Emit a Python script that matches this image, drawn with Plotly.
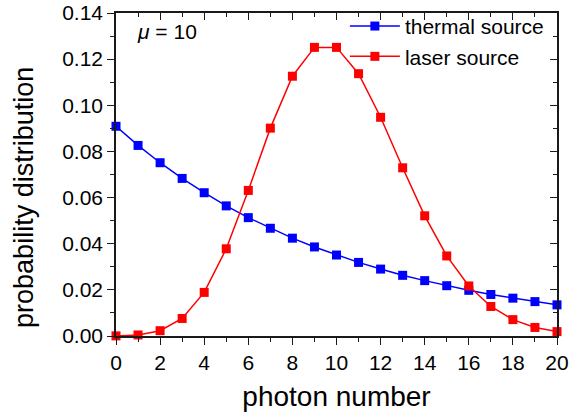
import plotly.graph_objects as go

# Photon-number distributions for mean photon number mu = 10
photon_n = list(range(0, 21))
thermal_p = [0.0909, 0.0826, 0.0751, 0.0683, 0.0621, 0.0564, 0.0513, 0.0467,
             0.0424, 0.0386, 0.0351, 0.0319, 0.0290, 0.0263, 0.0240, 0.0218,
             0.0198, 0.0180, 0.0164, 0.0149, 0.0135]
laser_p = [0.00005, 0.00045, 0.0023, 0.0076, 0.0189, 0.0378, 0.0631, 0.0901,
           0.1126, 0.1251, 0.1251, 0.1137, 0.0948, 0.0729, 0.0521, 0.0347,
           0.0217, 0.0128, 0.0071, 0.0037, 0.0019]

x_ticks = list(range(0, 21, 2))
y_ticks = [0.00, 0.02, 0.04, 0.06, 0.08, 0.10, 0.12, 0.14]
y_tick_text = [f"{v:.2f}" for v in y_ticks]

BLUE = "#0000ff"
RED = "#ff0000"
AXIS = "#1a1a1a"
FONT = "Liberation Sans, Arial, sans-serif"

fig = go.Figure()

fig.add_trace(go.Scatter(x=photon_n, y=thermal_p, mode="lines+markers",
                         name="thermal source",
                         line=dict(color=BLUE, width=1.5),
                         marker=dict(symbol="square", size=9, color=BLUE),
                         cliponaxis=False))
fig.add_trace(go.Scatter(x=photon_n, y=laser_p, mode="lines+markers",
                         name="laser source",
                         line=dict(color=RED, width=1.5),
                         marker=dict(symbol="square", size=9, color=RED),
                         cliponaxis=False))

# invisible trace on the mirror axes so the top/right frame is drawn
fig.add_trace(go.Scatter(x=[0, 20], y=[0, 0.14], xaxis="x2", yaxis="y2",
                         mode="markers", marker=dict(opacity=0),
                         showlegend=False, hoverinfo="skip"))

axis_line = dict(showline=True, linecolor=AXIS, linewidth=1.6,
                 showgrid=False, zeroline=False, automargin=False)

fig.update_layout(
    template="none",
    width=569, height=416,
    margin=dict(l=116, r=12, t=13, b=80, autoexpand=False),
    paper_bgcolor="white", plot_bgcolor="white",
    font=dict(family=FONT, color="black"),
    xaxis=dict(range=[0, 20], tickvals=x_ticks, ticks="outside", ticklen=7,
               tickwidth=1.4, tickcolor=AXIS,
               minor=dict(dtick=1, ticks="outside", ticklen=4, tickwidth=1.2,
                          tickcolor=AXIS),
               tickfont=dict(size=21),
               title=dict(text="photon number", font=dict(size=28), standoff=13),
               **axis_line),
    yaxis=dict(range=[0, 0.14], tickvals=y_ticks, ticktext=y_tick_text,
               ticks="outside", ticklen=7, tickwidth=1.4, tickcolor=AXIS,
               minor=dict(dtick=0.01, ticks="outside", ticklen=4, tickwidth=1.2,
                          tickcolor=AXIS),
               tickfont=dict(size=21),
               **axis_line),
    xaxis2=dict(range=[0, 20], overlaying="x", side="top", tickvals=x_ticks,
                ticks="inside", ticklen=7, tickwidth=1.4, tickcolor=AXIS,
                minor=dict(dtick=1, ticks="inside", ticklen=4, tickwidth=1.2,
                           tickcolor=AXIS),
                showticklabels=False, **axis_line),
    yaxis2=dict(range=[0, 0.14], overlaying="y", side="right", tickvals=y_ticks,
                ticks="inside", ticklen=7, tickwidth=1.4, tickcolor=AXIS,
                minor=dict(dtick=0.01, ticks="inside", ticklen=4, tickwidth=1.2,
                           tickcolor=AXIS),
                showticklabels=False, **axis_line),
    legend=dict(x=0.519, y=1.022, xanchor="left", yanchor="top",
                bgcolor="rgba(0,0,0,0)", borderwidth=0, font=dict(size=21),
                tracegroupgap=0, itemwidth=50),
    annotations=[
        dict(text="<i>μ</i> = 10", xref="paper", yref="paper",
             x=0.043, y=0.943, xanchor="left", yanchor="middle",
             showarrow=False, font=dict(size=21)),
        dict(text="probability distribution", xref="paper", yref="paper",
             x=-0.209, y=0.430, xanchor="center", yanchor="middle",
             textangle=-90, showarrow=False, font=dict(size=27)),
    ],
)

fig.write_html("out.html")
